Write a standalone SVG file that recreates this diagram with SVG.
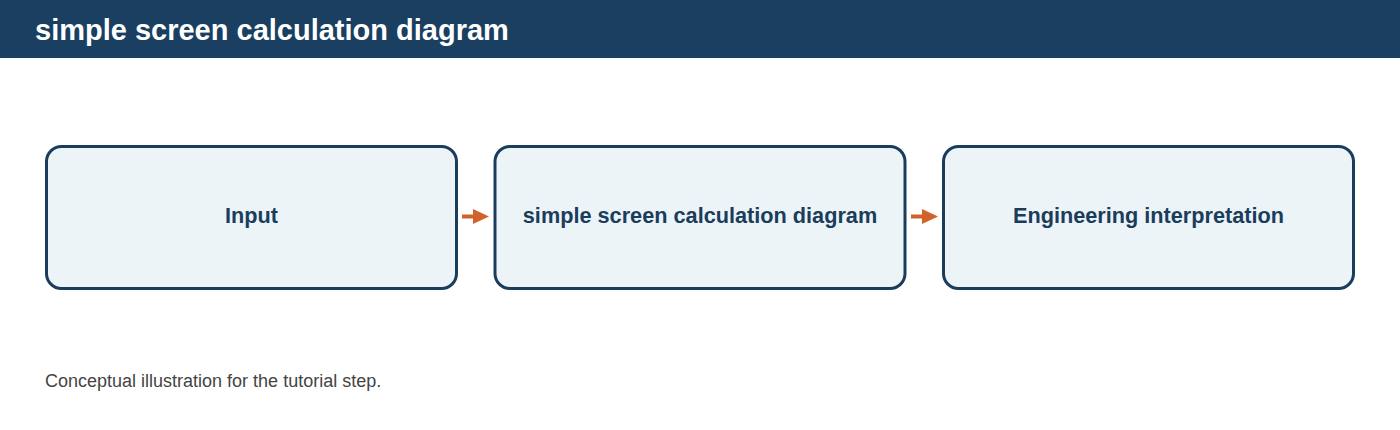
<svg xmlns="http://www.w3.org/2000/svg" width="1400" height="430" viewBox="0 0 1400 430">
<style>
.node rect{fill:#edf4f8;stroke:#1a3d5c;stroke-width:3}
.node text{font-family:"Liberation Sans",Arial,sans-serif;font-size:21.7px;font-weight:bold;fill:#1a3d5c;text-anchor:middle}
.conn line{stroke:#d0632a;stroke-width:4}
.conn polygon{fill:#d0632a}
</style>
<rect x="0" y="0" width="1400" height="430" fill="#ffffff"/>
<g id="header">
<rect x="0" y="0" width="1400" height="58" fill="#1a3f60"/>
<text x="35" y="40" font-family="Liberation Sans,Arial,sans-serif" font-size="29" font-weight="bold" fill="#ffffff">simple screen calculation diagram</text>
</g>
<g id="node-input" class="node">
<rect x="46.5" y="146.5" width="410" height="142" rx="15"/>
<text x="251.5" y="223">Input</text>
</g>
<g id="node-calc" class="node">
<rect x="495" y="146.5" width="410" height="142" rx="15"/>
<text x="700" y="223">simple screen calculation diagram</text>
</g>
<g id="node-interp" class="node">
<rect x="943.5" y="146.5" width="410" height="142" rx="15"/>
<text x="1148.5" y="223">Engineering interpretation</text>
</g>
<g id="connectors" class="conn">
<line x1="462" y1="216.5" x2="475" y2="216.5"/>
<polygon points="473,209 489,216.5 473,224"/>
<line x1="911" y1="216.5" x2="924" y2="216.5"/>
<polygon points="922,209 938,216.5 922,224"/>
</g>
<text x="45" y="387" font-family="Liberation Sans,Arial,sans-serif" font-size="18" fill="#444444">Conceptual illustration for the tutorial step.</text>
</svg>
